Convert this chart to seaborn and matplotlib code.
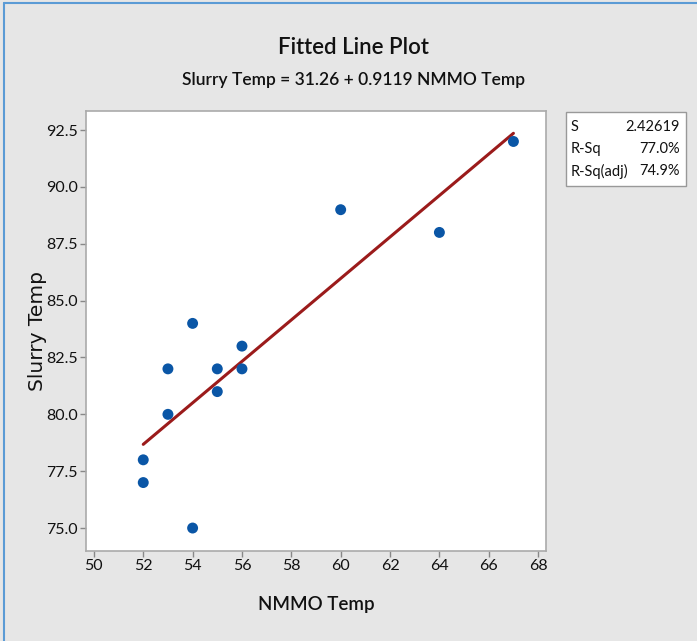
import matplotlib
matplotlib.use("Agg")
import matplotlib.pyplot as plt
import seaborn as sns
import pandas as pd
from matplotlib.patches import Rectangle
from matplotlib.lines import Line2D

nmmo_temp = [52, 52, 53, 53, 54, 54, 55, 55, 56, 56, 60, 64, 67]
slurry_temp = [78, 77, 82, 80, 84, 75, 82, 81, 83, 82, 89, 88, 92]
x_ticks = [50, 52, 54, 56, 58, 60, 62, 64, 66, 68]
y_ticks = [75.0, 77.5, 80.0, 82.5, 85.0, 87.5, 90.0, 92.5]
stat_names = ["S", "R-Sq", "R-Sq(adj)"]
stat_values = ["2.42619", "77.0%", "74.9%"]

df = pd.DataFrame({"NMMO Temp": nmmo_temp, "Slurry Temp": slurry_temp})

sns.set_theme(style="white")
FONT = ["Lato", "DejaVu Sans"]
plt.rcParams["font.family"] = FONT

BG = "#e6e6e6"
fig = plt.figure(figsize=(6.97, 6.41), dpi=100, facecolor=BG)
W, H = 697, 641
ax = fig.add_axes([86 / W, 1 - 551 / H, (546 - 86) / W, (551 - 111) / H])
ax.set_facecolor("white")

sns.regplot(data=df, x="NMMO Temp", y="Slurry Temp", ax=ax, ci=None,
            scatter_kws=dict(s=62, color="#0a56a6", edgecolor="none", zorder=3, alpha=1),
            line_kws=dict(color="#9b1b1b", lw=2.2, zorder=2))

ax.set_xlim(49.68, 68.32)
ax.set_ylim(73.99, 93.34)
ax.set_xticks(x_ticks)
ax.set_xticklabels([str(t) for t in x_ticks])
ax.set_yticks(y_ticks)
ax.set_yticklabels([f"{t:.1f}" for t in y_ticks])
ax.tick_params(axis="both", which="both", length=4, width=1, color="#888888",
               labelsize=11.5, labelcolor="#111111", direction="out", pad=2)
ax.xaxis.set_ticks_position("bottom")
ax.yaxis.set_ticks_position("left")
for sp in ax.spines.values():
    sp.set_color("#aaaaaa")
    sp.set_linewidth(1.2)

ax.set_xlabel("NMMO Temp", fontsize=13.5, color="#111111", labelpad=16,
              fontweight="semibold")
ax.set_ylabel("Slurry Temp", fontsize=14.5, color="#111111", labelpad=-1,
              family=["DejaVu Sans"])

fig.text(353 / W, 1 - 47 / H, "Fitted Line Plot",
         ha="center", va="center", fontsize=16, color="#111111", fontweight="semibold")
fig.text(353 / W, 1 - 80 / H, "Slurry Temp = 31.26 + 0.9119 NMMO Temp",
         ha="center", va="center", fontsize=12.5, color="#111111", fontweight="semibold")

# stats box
fig.patches.append(Rectangle((566 / W, 1 - 186 / H), (686 - 566) / W, (186 - 112) / H,
                             transform=fig.transFigure, facecolor="white",
                             edgecolor="#999999", lw=1.0, zorder=1))
for i, (n, v) in enumerate(zip(stat_names, stat_values)):
    yy = 1 - (127 + i * 22) / H
    fig.text(571 / W, yy, n, ha="left", va="center", fontsize=10.5, color="#111111")
    fig.text(680 / W, yy, v, ha="right", va="center", fontsize=10.5, color="#111111")

# window border
fig.lines.append(Line2D([4 / W, 4 / W], [0, 1 - 3 / H], transform=fig.transFigure,
                        color="#5b9bd5", lw=1.5))
fig.lines.append(Line2D([4 / W, 1], [1 - 3 / H, 1 - 3 / H], transform=fig.transFigure,
                        color="#5b9bd5", lw=1.5))

fig.savefig("out.png", dpi=100, facecolor=BG)
